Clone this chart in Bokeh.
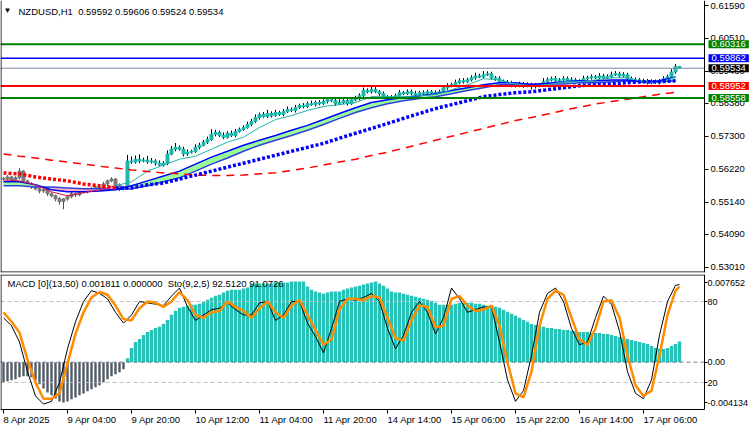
import numpy as np
from bokeh.plotting import figure
from bokeh.layouts import column
from bokeh.models import Range1d, FixedTicker, Label, ColumnDataSource, PrintfTickFormatter
from bokeh.embed import file_html
from bokeh.resources import INLINE

FONT = "Liberation Sans"
FS = "9.5px"

# ---------------- data ----------------
title_text = "NZDUSD,H1\u00a0\u00a00.59592 0.59606 0.59524 0.59534"
macd_text = "MACD [0](13,50) 0.001811 0.000000\u00a0\u00a0Sto(9,2,5) 92.5120 91.0726"

first_open = 0.5592
closes = [0.5590, 0.5597, 0.5587, 0.5594, 0.5616, 0.5584, 0.5574, 0.5564, 0.5558, 0.5551,
          0.5555, 0.5542, 0.5535, 0.5525, 0.5516, 0.5525, 0.5532, 0.5542, 0.5538, 0.5551,
          0.5548, 0.5558, 0.5555, 0.5564, 0.5561, 0.5574, 0.5584, 0.5590, 0.5571, 0.5558,
          0.5564, 0.5649, 0.5646, 0.5655, 0.5649, 0.5652, 0.5646, 0.5649, 0.5642, 0.5636,
          0.5642, 0.5672, 0.5688, 0.5694, 0.5688, 0.5672, 0.5678, 0.5681, 0.5694, 0.5701,
          0.5711, 0.5720, 0.5737, 0.5743, 0.5733, 0.5727, 0.5740, 0.5733, 0.5746, 0.5753,
          0.5759, 0.5769, 0.5779, 0.5792, 0.5802, 0.5795, 0.5805, 0.5798, 0.5808, 0.5802,
          0.5811, 0.5818, 0.5815, 0.5824, 0.5831, 0.5828, 0.5837, 0.5834, 0.5841, 0.5837,
          0.5844, 0.5850, 0.5847, 0.5837, 0.5841, 0.5847, 0.5837, 0.5850, 0.5854, 0.5863,
          0.5880, 0.5876, 0.5883, 0.5876, 0.5870, 0.5860, 0.5850, 0.5857, 0.5863, 0.5873,
          0.5870, 0.5876, 0.5870, 0.5867, 0.5873, 0.5870, 0.5876, 0.5873, 0.5870, 0.5876,
          0.5889, 0.5896, 0.5899, 0.5906, 0.5912, 0.5909, 0.5915, 0.5922, 0.5928, 0.5925,
          0.5932, 0.5935, 0.5922, 0.5919, 0.5909, 0.5902, 0.5906, 0.5899, 0.5896, 0.5902,
          0.5896, 0.5899, 0.5893, 0.5896, 0.5899, 0.5909, 0.5915, 0.5919, 0.5912, 0.5915,
          0.5919, 0.5912, 0.5915, 0.5909, 0.5906, 0.5919, 0.5922, 0.5925, 0.5922, 0.5928,
          0.5922, 0.5925, 0.5932, 0.5935, 0.5928, 0.5932, 0.5919, 0.5912, 0.5915, 0.5909,
          0.5912, 0.5906, 0.5909, 0.5906, 0.5912, 0.5919, 0.5925, 0.5941, 0.59592, 0.59534]
up_wick_pips = [4, 6, 3, 5, 10, 3, 4, 6, 3, 5, 4, 3, 5, 4, 6, 3, 5, 7, 4, 6,
                5, 3, 6, 4, 5, 7, 4, 6, 3, 5, 4, 20, 15, 12, 16, 8, 14, 10, 6, 9,
                7, 12, 10, 14, 6, 8, 9, 5, 10, 8, 7, 9, 16, 8, 6, 10, 7, 9, 8, 6,
                7, 9, 8, 10, 6, 8, 12, 7, 9, 6, 8, 10, 7, 9, 6, 8, 7, 10, 6, 8,
                7, 9, 8, 6, 10, 7, 8, 6, 9, 8, 10, 7, 9, 8, 6, 7, 5, 8, 7, 9,
                6, 8, 7, 9, 6, 8, 7, 6, 8, 7, 9, 8, 7, 10, 8, 9, 7, 8, 11, 7,
                12, 8, 7, 6, 8, 7, 9, 6, 8, 7, 6, 8, 7, 9, 6, 12, 8, 7, 9, 6,
                8, 7, 9, 6, 8, 10, 7, 8, 6, 9, 7, 8, 10, 9, 7, 8, 6, 7, 8, 6,
                7, 6, 8, 7, 6, 8, 7, 9, 8, 1.4]
dn_wick_pips = [5, 4, 6, 3, 5, 7, 4, 6, 5, 8, 6, 7, 5, 8, 10, 25, 6, 5, 7, 4,
                6, 5, 7, 4, 6, 5, 7, 4, 6, 8, 5, 4, 6, 5, 7, 4, 6, 5, 8, 6,
                5, 6, 4, 7, 5, 8, 6, 4, 5, 7, 4, 6, 5, 7, 5, 6, 4, 5, 6, 4,
                5, 4, 6, 5, 7, 4, 5, 6, 4, 5, 6, 4, 5, 7, 4, 6, 5, 4, 6, 5,
                4, 6, 5, 7, 4, 5, 6, 4, 5, 6, 4, 5, 6, 4, 7, 5, 9, 4, 5, 6,
                5, 4, 6, 5, 4, 6, 5, 7, 4, 5, 4, 6, 5, 4, 5, 6, 4, 5, 6, 4,
                5, 4, 6, 7, 5, 6, 4, 8, 6, 5, 7, 5, 9, 6, 5, 4, 6, 5, 4, 6,
                5, 4, 6, 5, 7, 4, 5, 6, 4, 5, 6, 4, 5, 4, 6, 5, 7, 4, 6, 5,
                4, 6, 5, 4, 6, 5, 4, 5, 6, 1.0]

# moving averages sampled every 4 bars
ma_idx = list(range(0, 169, 4))
slow_ma = [0.5672, 0.5665, 0.5659, 0.5652, 0.5646, 0.5639, 0.5632, 0.5626, 0.5620, 0.5615,
           0.5610, 0.5607, 0.5603, 0.5602, 0.5602, 0.5603, 0.5607, 0.5611, 0.5618, 0.5626,
           0.5636, 0.5646, 0.5655, 0.5667, 0.5678, 0.5691, 0.5704, 0.5717, 0.5730, 0.5743,
           0.5756, 0.5769, 0.5782, 0.5792, 0.5803, 0.5815, 0.5826, 0.5836, 0.5844, 0.5852,
           0.5860, 0.5868, 0.5874]
dots_ma = [0.5610, 0.5607, 0.5597, 0.5590, 0.5584, 0.5574, 0.5568, 0.5561, 0.5561, 0.5571,
           0.5577, 0.5590, 0.5603, 0.5616, 0.5629, 0.5642, 0.5655, 0.5668, 0.5681, 0.5694,
           0.5707, 0.5724, 0.5740, 0.5756, 0.5772, 0.5789, 0.5805, 0.5821, 0.5834, 0.5847,
           0.5860, 0.5867, 0.5873, 0.5876, 0.5883, 0.5889, 0.5896, 0.5899, 0.5902, 0.5906,
           0.5909, 0.5909, 0.5912]
fast_ma = [0.5587, 0.5584, 0.5571, 0.5548, 0.5535, 0.5545, 0.5555, 0.5568, 0.5581, 0.5616,
           0.5636, 0.5655, 0.5665, 0.5688, 0.5711, 0.5727, 0.5759, 0.5785, 0.5798, 0.5815,
           0.5828, 0.5834, 0.5841, 0.5860, 0.5860, 0.5860, 0.5863, 0.5867, 0.5883, 0.5899,
           0.5919, 0.5915, 0.5902, 0.5896, 0.5899, 0.5909, 0.5909, 0.5915, 0.5922, 0.5922,
           0.5909, 0.5906, 0.5925]
ribbon_fast = [0.5581, 0.5581, 0.5571, 0.5555, 0.5548, 0.5548, 0.5551, 0.5555, 0.5568, 0.5584,
               0.5600, 0.5616, 0.5639, 0.5662, 0.5681, 0.5701, 0.5717, 0.5733, 0.5750, 0.5766,
               0.5785, 0.5805, 0.5824, 0.5841, 0.5850, 0.5857, 0.5863, 0.5870, 0.5880, 0.5889,
               0.5899, 0.5906, 0.5906, 0.5899, 0.5904, 0.5909, 0.5912, 0.5912, 0.5915, 0.5915,
               0.5907, 0.5912, 0.5925]
ribbon_slow = [0.5568, 0.5568, 0.5564, 0.5564, 0.5561, 0.5558, 0.5558, 0.5556, 0.5558, 0.5568,
               0.5581, 0.5594, 0.5616, 0.5639, 0.5659, 0.5681, 0.5701, 0.5717, 0.5733, 0.5750,
               0.5769, 0.5789, 0.5808, 0.5824, 0.5837, 0.5847, 0.5854, 0.5860, 0.5870, 0.5880,
               0.5889, 0.5899, 0.5899, 0.5902, 0.5902, 0.5902, 0.5906, 0.5906, 0.5909, 0.5912,
               0.5910, 0.5909, 0.5912]

hist = [-0.00176, -0.00167, -0.00158, -0.00150, -0.00132, -0.00123, -0.00123, -0.00132, -0.00158, -0.00193,
        -0.00229, -0.00264, -0.00290, -0.00317, -0.00343, -0.00352, -0.00343, -0.00325, -0.00308, -0.00290,
        -0.00273, -0.00255, -0.00237, -0.00220, -0.00202, -0.00176, -0.00150, -0.00123, -0.00106, -0.00088,
        -0.00062, 0.00035, 0.00123, 0.00176, 0.00202, 0.00237, 0.00264, 0.00281, 0.00299, 0.00308,
        0.00334, 0.00369, 0.00413, 0.00449, 0.00475, 0.00484, 0.00493, 0.00501, 0.00501, 0.00510,
        0.00528, 0.00545, 0.00563, 0.00580, 0.00589, 0.00607, 0.00624, 0.00633, 0.00633, 0.00633,
        0.00642, 0.00651, 0.00677, 0.00686, 0.00686, 0.00686, 0.00686, 0.00686, 0.00695, 0.00695,
        0.00695, 0.00695, 0.00704, 0.00704, 0.00704, 0.00704, 0.00660, 0.00633, 0.00616, 0.00607,
        0.00598, 0.00607, 0.00616, 0.00616, 0.00616, 0.00633, 0.00642, 0.00651, 0.00660, 0.00668,
        0.00677, 0.00686, 0.00695, 0.00704, 0.00686, 0.00668, 0.00642, 0.00616, 0.00607, 0.00607,
        0.00598, 0.00589, 0.00580, 0.00572, 0.00563, 0.00554, 0.00545, 0.00536, 0.00519, 0.00501,
        0.00501, 0.00501, 0.00501, 0.00510, 0.00519, 0.00519, 0.00519, 0.00519, 0.00510, 0.00510,
        0.00501, 0.00493, 0.00493, 0.00484, 0.00475, 0.00457, 0.00440, 0.00422, 0.00405, 0.00387,
        0.00369, 0.00352, 0.00334, 0.00325, 0.00317, 0.00308, 0.00299, 0.00299, 0.00290, 0.00290,
        0.00281, 0.00281, 0.00273, 0.00273, 0.00264, 0.00264, 0.00264, 0.00255, 0.00255, 0.00255,
        0.00246, 0.00246, 0.00237, 0.00229, 0.00220, 0.00211, 0.00202, 0.00193, 0.00185, 0.00176,
        0.00167, 0.00158, 0.00141, 0.00123, 0.00114, 0.00114, 0.00123, 0.00141, 0.00158, 0.001811]

# stochastic sampled every 2 bars (+ last bar)
sto_idx = list(range(0, 169, 2)) + [169]
sto_main = [68, 62, 50, 28, 10, 4, 6, 20, 45, 65, 80, 88, 86, 82, 72, 64, 70, 80, 79, 78,
            77, 84, 90, 76, 66, 70, 74, 75, 79, 74, 70, 70, 79, 80, 66, 70, 80, 80, 64, 54,
            42, 60, 80, 82, 81, 83, 86, 80, 60, 45, 55, 72, 80, 72, 56, 68, 90, 82, 72, 74,
            76, 76, 50, 22, 6, 14, 40, 72, 86, 90, 80, 60, 48, 50, 68, 84, 78, 58, 28, 12,
            8, 22, 55, 80, 92, 92.512]
sto_signal = [72, 65, 57, 37, 20, 8, 8, 12, 34, 56, 72, 83, 87, 85, 77, 67, 66, 75, 80, 79,
              76, 80, 87, 81, 70, 68, 72, 73, 80, 76, 73, 68, 75, 80, 72, 68, 77, 81, 70, 59,
              48, 52, 74, 82, 82, 81, 84, 83, 68, 53, 51, 66, 77, 76, 61, 62, 82, 84, 77, 73,
              74, 77, 62, 35, 12, 9, 28, 62, 82, 88, 85, 68, 52, 48, 60, 80, 81, 68, 40, 18,
              10, 14, 40, 70, 88, 91.0726]

date_ticks = [0, 16, 32, 48, 64, 80, 96, 112, 128, 144, 160]
date_labels = ["8 Apr 2025", "9 Apr 04:00", "9 Apr 20:00", "10 Apr 12:00", "11 Apr 04:00",
               "11 Apr 20:00", "14 Apr 14:00", "15 Apr 06:00", "15 Apr 22:00",
               "16 Apr 14:00", "17 Apr 06:00"]
price_ticks = [0.61590, 0.60510, 0.59430, 0.58380, 0.57300, 0.56220, 0.55140, 0.54090, 0.53010]
levels = [0.60316, 0.59862, 0.59534, 0.58952, 0.58558]
level_box_colors = ["#008000", "#0000FF", "#000000", "#FF0000", "#008000"]
level_line_colors = ["#008000", "#0000FF", "#778899", "#FF0000", "#008000"]
level_line_widths = [2, 1.5, 1, 2, 2]
macd_hi, macd_lo = 0.007652, -0.004134
sto_levels = [80, 20]

n = len(closes)
assert len(up_wick_pips) == n and len(dn_wick_pips) == n and len(hist) == n
for arr in (slow_ma, dots_ma, fast_ma, ribbon_fast, ribbon_slow):
    assert len(arr) == len(ma_idx)
assert len(sto_main) == len(sto_idx) and len(sto_signal) == len(sto_idx)

# ---------------- geometry (pixel layout of the MT4 window) ----------------
W = 750
BAR_PX = 4.0
AX_PX = 704                      # x of the price-axis line
X0 = -3 / BAR_PX                 # bar 0 centred at x = 3 px
X1 = X0 + W / BAR_PX
X_AX = X0 + AX_PX / BAR_PX
H1_FRAME = 272
PPU1 = 3050.0                    # px per price unit
Y1 = 0.61590 + 5 / PPU1
Y0 = Y1 - H1_FRAME / PPU1
TOP2 = 274
BOT2 = 409                       # bottom of the indicator window
H2_FRAME = 430 - TOP2
PPU2 = (BOT2 - TOP2) / (macd_hi - macd_lo)
M_LO = macd_hi - H2_FRAME / PPU2
S_PPU = (BOT2 - TOP2) / 100.0
S_LO = -(430 - BOT2) / S_PPU


def xd(px):
    return X0 + px / BAR_PX


def yd1(py):
    return Y1 - py / PPU1


def yd2(py):
    return macd_hi - (py - TOP2) / PPU2


xr = Range1d(X0, X1)


def style_axis(ax, size=FS, tick_out=4, standoff=2):
    ax.major_label_text_font = FONT
    ax.major_label_text_font_size = size
    ax.major_label_text_color = "black"
    ax.major_tick_out = tick_out
    ax.major_tick_in = 0
    ax.minor_tick_out = 0
    ax.minor_tick_in = 0
    ax.major_label_standoff = standoff
    ax.axis_line_color = "black"
    ax.major_tick_line_color = "black"


# ---------------- main price panel ----------------
p1 = figure(width=W, height=273, x_range=xr, y_range=Range1d(Y0, Y1),
            x_axis_location=None, y_axis_location="right",
            output_backend="svg", toolbar_location=None,
            min_border_left=0, min_border_right=0,
            min_border_top=0, min_border_bottom=1)
p1.grid.visible = False
p1.outline_line_color = None
p1.background_fill_color = "white"
p1.border_fill_color = "white"
ya = p1.yaxis[0]
ya.fixed_location = X_AX
ya.ticker = FixedTicker(ticks=price_ticks)
ya.formatter = PrintfTickFormatter(format="%.5f")
style_axis(ya)

opens = [first_open] + closes[:-1]
body_top = [max(o, c) for o, c in zip(opens, closes)]
body_bot = [min(o, c) for o, c in zip(opens, closes)]
highs = [t + u * 1e-4 for t, u in zip(body_top, up_wick_pips)]
lows = [b - d * 1e-4 for b, d in zip(body_bot, dn_wick_pips)]
bear_end = 31
wick_col = ["#C8102E" if i < bear_end else "#000000" for i in range(n)]
body_col = ["#7A7A7A" if i < bear_end else "#20B5AB" for i in range(n)]
cs = ColumnDataSource(dict(x=list(range(n)), hi=highs, lo=lows, top=body_top, bot=body_bot,
                           wc=wick_col, bc=body_col))
p1.segment(x0="x", y0="lo", x1="x", y1="hi", line_color="wc", line_width=1, source=cs)
p1.vbar(x="x", top="top", bottom="bot", width=0.75, fill_color="bc", line_color="bc",
        line_width=1, source=cs)

# ribbon fill
mask = [f >= s for f, s in zip(ribbon_fast, ribbon_slow)]
start = 0
for j in range(1, len(mask) + 1):
    if j == len(mask) or mask[j] != mask[start]:
        end = min(j, len(mask) - 1)
        sl = slice(start, end + 1)
        p1.varea(x=ma_idx[sl], y1=ribbon_fast[sl], y2=ribbon_slow[sl],
                 fill_color="#98FB98" if mask[start] else "#FFB6C1")
        start = j
p1.line(ma_idx, ribbon_slow, line_color="#3040E0", line_width=1.5)
p1.line(ma_idx, ribbon_fast, line_color="#0000FF", line_width=1.5)

turn = 7  # sample where the colouring switches
p1.line(ma_idx[:turn + 1], fast_ma[:turn + 1], line_color="#DC143C", line_width=1)
p1.line(ma_idx[turn:], fast_ma[turn:], line_color="#20B2AA", line_width=1)

p1.line(ma_idx, slow_ma, line_color="#FF0000", line_width=1.5, line_dash="8 6")

p1.line(ma_idx[:turn + 1], dots_ma[:turn + 1], line_color="#FF0000", line_width=3.5, line_dash="3 2")
p1.line(ma_idx[turn:], dots_ma[turn:], line_color="#0000FF", line_width=3.5, line_dash="3 2")

# horizontal level lines (to the price axis) and their price boxes
for lv, lc, lw in zip(levels, level_line_colors, level_line_widths):
    p1.segment(x0=[X0], y0=[lv], x1=[X_AX], y1=[lv], line_color=lc, line_width=lw)
for lv, bc in zip(levels, level_box_colors):
    p1.add_layout(Label(x=X_AX, y=lv, x_offset=4, text=f"{lv:.5f}", text_color="white",
                        text_font=FONT, text_font_size=FS, text_align="left",
                        text_baseline="middle", background_fill_color=bc,
                        background_fill_alpha=1.0, padding=(3, 1)))

# window borders (left and bottom)
p1.segment(x0=[xd(0.5)], y0=[Y0], x1=[xd(0.5)], y1=[Y1], line_color="black", line_width=1)
p1.segment(x0=[X0], y0=[yd1(271.5)], x1=[X_AX], y1=[yd1(271.5)], line_color="black", line_width=1)

p1.add_layout(Label(x=xd(3), y=yd1(10), text="\u25BC", text_font=FONT, text_font_size="8px",
                    text_color="black", text_align="left", text_baseline="middle"))
p1.add_layout(Label(x=xd(18), y=yd1(10.5), text=title_text, text_font=FONT, text_font_size=FS,
                    text_color="black", text_align="left", text_baseline="middle"))

# ---------------- MACD / Stochastic panel ----------------
p2 = figure(width=W, height=157, x_range=xr, y_range=Range1d(M_LO, macd_hi),
            y_axis_location="right", output_backend="svg", toolbar_location=None,
            min_border_left=0, min_border_right=0,
            min_border_top=1, min_border_bottom=0)
p2.extra_y_ranges = {"sto": Range1d(S_LO, 100)}
p2.grid.visible = False
p2.outline_line_color = None
p2.background_fill_color = "white"
p2.border_fill_color = "white"

top_tick = yd2(282)
bot_tick = yd2(402)
sto80 = macd_lo + sto_levels[0] / 100 * (macd_hi - macd_lo)
sto20 = macd_lo + sto_levels[1] / 100 * (macd_hi - macd_lo)
ya2 = p2.yaxis[0]
ya2.fixed_location = X_AX
ya2.bounds = (macd_lo, macd_hi)
ya2.ticker = FixedTicker(ticks=[top_tick, sto80, 0.0, sto20, bot_tick])
ya2.major_label_overrides = {top_tick: f"{macd_hi:.6f}", sto80: str(sto_levels[0]), 0.0: "0.00",
                             sto20: str(sto_levels[1]), bot_tick: f"{macd_lo:.6f}"}
style_axis(ya2, size="9px", tick_out=3, standoff=0)

xa = p2.xaxis[0]
xa.fixed_location = macd_lo
xa.bounds = (X0, X_AX)
xa.ticker = FixedTicker(ticks=date_ticks)
xa.major_label_overrides = {t: "" for t in date_ticks}
style_axis(xa)

neg = [(i, h) for i, h in enumerate(hist) if h < 0]
pos = [(i, h) for i, h in enumerate(hist) if h >= 0]
p2.vbar(x=[a for a, _ in neg], top=[b for _, b in neg], bottom=0, width=0.6,
        fill_color="#525B66", line_color=None)
p2.vbar(x=[a for a, _ in pos], top=[b for _, b in pos], bottom=0, width=0.85,
        fill_color="#26C2B8", line_color=None)

p2.segment(x0=[X0, X0], y0=[sto80, sto20], x1=[X_AX, X_AX], y1=[sto80, sto20],
           line_color="#C0C0C0", line_width=1, line_dash="4 3")
p2.segment(x0=[X0], y0=[0.0], x1=[X_AX], y1=[0.0], line_color="#708090", line_width=1,
           line_dash="4 3")

p2.line(sto_idx, sto_main, y_range_name="sto", line_color="black", line_width=1)
p2.line(sto_idx, sto_signal, y_range_name="sto", line_color="#FF8C00", line_width=2.5)

# window borders (left and top)
p2.segment(x0=[xd(0.5)], y0=[macd_lo], x1=[xd(0.5)], y1=[macd_hi], line_color="black", line_width=1)
p2.segment(x0=[X0], y0=[yd2(274.5)], x1=[X_AX], y1=[yd2(274.5)], line_color="black", line_width=1)

p2.add_layout(Label(x=xd(7), y=yd2(283), text=macd_text, text_font=FONT, text_font_size=FS,
                    text_color="black", text_align="left", text_baseline="middle"))

for t, lab in zip(date_ticks, date_labels):
    p2.add_layout(Label(x=t, y=yd2(419), x_offset=0, text=lab, text_font=FONT, text_font_size=FS,
                        text_color="black", text_align="left", text_baseline="middle"))

layout = column(p1, p2, spacing=0)
open("out.html", "w").write(file_html(layout, INLINE))
